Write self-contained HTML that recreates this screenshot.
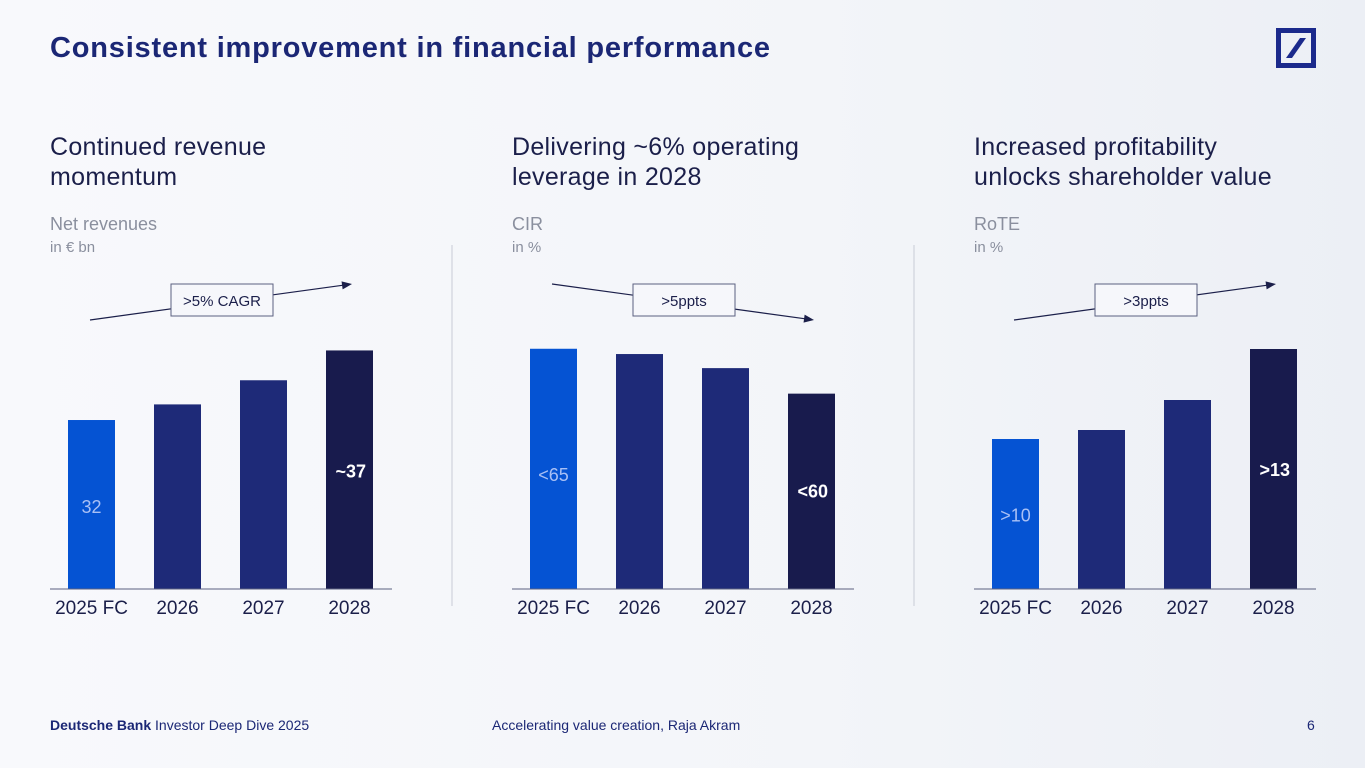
<!DOCTYPE html>
<html><head><meta charset="utf-8"><style>
body{margin:0;width:1365px;height:768px;overflow:hidden;background:linear-gradient(90deg,#f8f9fc 0%,#f3f5f9 60%,#eceff5 100%);font-family:"Liberation Sans",sans-serif;position:relative}
.t{position:absolute;white-space:nowrap}
</style></head><body>
<div class="t" style="left:50px;top:32px;font-size:29px;font-weight:bold;color:#1b2775;letter-spacing:0.8px">Consistent improvement in financial performance</div>
<svg style="position:absolute;left:1276px;top:28px" width="40" height="40" viewBox="0 0 40 40"><rect x="2.5" y="2.5" width="35" height="35" fill="none" stroke="#1b2a8c" stroke-width="5"/><polygon points="24,10 30,10 16,30 10,30" fill="#1b2a8c"/></svg>
<svg id="chart" width="1365" height="768" style="position:absolute;left:0;top:0"></svg>
<div class="t" style="left:50px;top:717px;font-size:14px;color:#1b2775"><b>Deutsche Bank</b> Investor Deep Dive 2025</div>
<div class="t" style="left:492px;top:717px;font-size:14px;color:#1b2775">Accelerating value creation, Raja Akram</div>
<div class="t" style="left:1307px;top:717px;font-size:14px;color:#1b2775">6</div>
<script>
const categories=["2025 FC","2026","2027","2028"];
const revenueValues=[32,33.1,34.8,36.9];
const revenueLabels=["32","","","~37"];
const cirValues=[65,64.4,62.8,59.9];
const cirLabels=["<65","","","<60"];
const roteValues=[10,10.3,11.3,13];
const roteLabels=[">10","","",">13"];
const titles=[["Continued revenue","momentum"],["Delivering ~6% operating","leverage in 2028"],["Increased profitability","unlocks shareholder value"]];
const metrics=[["Net revenues","in € bn"],["CIR","in %"],["RoTE","in %"]];
const badges=[">5% CAGR",">5ppts",">3ppts"];
const NS="http://www.w3.org/2000/svg";
const svg=document.getElementById('chart');
function mk(tag,attrs,parent){const e=document.createElementNS(NS,tag);for(const k in attrs)e.setAttribute(k,attrs[k]);(parent||svg).appendChild(e);return e;}
const colors=["#0553d3","#1e2a78","#1e2a78","#181b4d"];
const panels=[
 {x0:50,vals:revenueValues,labels:revenueLabels,v0:20.1,k:14.2,up:true},
 {x0:512,vals:cirValues,labels:cirLabels,v0:37.7,k:8.8,up:false},
 {x0:974,vals:roteValues,labels:roteLabels,v0:5,k:30,up:true}];
const base=589;
function yScale(p,v){return base-(v-p.v0)*p.k;}
function xScale(p,i){return p.x0+18+i*86;}
panels.forEach((p,pi)=>{
  const g=mk('g',{});
  
  
  titles[pi].forEach((s,j)=>{const t=mk('text',{x:p.x0,y:155+j*30,'font-size':25,fill:'#1b1f4a','letter-spacing':'0.3'},g);t.textContent=s;});
  const m1=mk('text',{x:p.x0,y:230,'font-size':18,fill:'#8a8f9e'},g);m1.textContent=metrics[pi][0];
  
  const m2=mk('text',{x:p.x0,y:252,'font-size':15,fill:'#8a8f9e'},g);m2.textContent=metrics[pi][1];
  
  p.vals.forEach((v,i)=>{
    const x=xScale(p,i),y=yScale(p,v);
    const r=mk('rect',{x:x,y:y,width:47,height:base-y,fill:colors[i]},g);
    
    
    if(p.labels[i]){const last=i===3;const ty=last?y+(pi==1?104:127):y+(base-y)*0.55;
      const t=mk('text',{x:x+(last?40:23.5),y:ty,'font-size':18,fill:last?'#fff':'#a9c0f5','font-weight':last?'bold':'normal','text-anchor':last?'end':'middle'},g);t.textContent=p.labels[i];
      }
    const tk=mk('text',{x:x+23.5,y:614,'font-size':19,fill:'#1b1f4a','text-anchor':'middle'},g);tk.textContent=categories[i];
    
  });
  const ax=mk('line',{x1:p.x0,x2:p.x0+342,y1:base,y2:base,stroke:'#5b6080','stroke-width':1},g);
  
  const ya=p.up?320:284,yb=p.up?284:320,xa=p.x0+40,xb=p.x0+302;
  const ln=mk('line',{x1:xa,y1:ya,x2:xb-6,y2:yb+(p.up?0.8:-0.8),stroke:'#1b1f4a','stroke-width':1.2},g);
  
  const ang=Math.atan2(yb-ya,xb-xa);
  const pts=[[xb,yb],[xb-10*Math.cos(ang)+4*Math.sin(ang),yb-10*Math.sin(ang)-4*Math.cos(ang)],[xb-10*Math.cos(ang)-4*Math.sin(ang),yb-10*Math.sin(ang)+4*Math.cos(ang)]];
  const ah=mk('polygon',{points:pts.map(q=>q.join(',')).join(' '),fill:'#1b1f4a'},g);
  
  const bx=p.x0+121;
  const br=mk('rect',{x:bx,y:284,width:102,height:32,fill:'#f6f7fb',stroke:'#5b6080','stroke-width':1},g);
  
  const bt=mk('text',{x:bx+51,y:306,'font-size':15,fill:'#1b1f4a','text-anchor':'middle'},g);bt.textContent=badges[pi];
  
  if(pi<2){const s=mk('line',{x1:p.x0+402,x2:p.x0+402,y1:245,y2:606,stroke:'#c8cbd6','stroke-width':1},g);
    }
});
</script>
</body></html>
